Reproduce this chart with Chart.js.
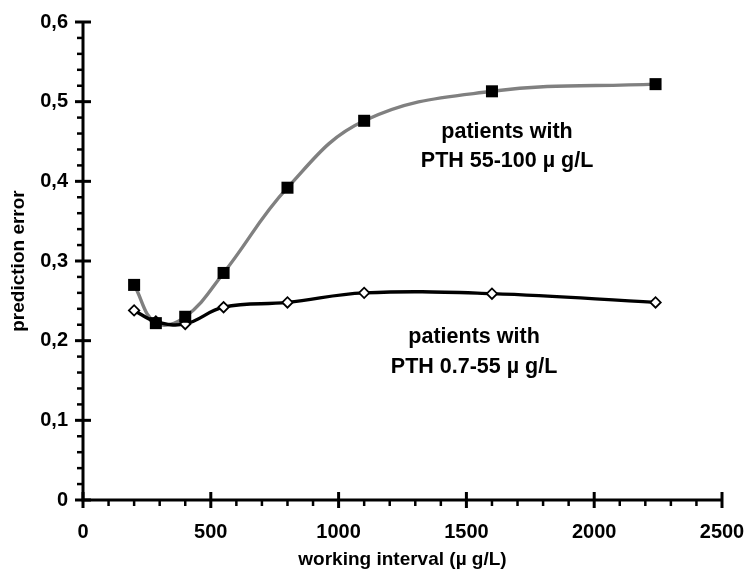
<!DOCTYPE html>
<html>
<head>
<meta charset="utf-8">
<script src="https://cdn.jsdelivr.net/npm/chart.js@4/dist/chart.umd.min.js"></script>
<style>
  html, body { margin: 0; padding: 0; background: #fff; }
  #wrap { width: 746px; height: 571px; position: relative; }
</style>
</head>
<body>
<div id="wrap"><canvas id="c" width="746" height="571"></canvas></div>
<script>
// Working interval (µg/L) on the x axis
const intervals = [200, 285, 400, 550, 800, 1100, 1600, 2240];
// Prediction error, patients with PTH 55-100 µg/L (grey line, black squares)
const errHigh = [0.270, 0.222, 0.230, 0.285, 0.392, 0.476, 0.513, 0.522];
// Prediction error, patients with PTH 0.7-55 µg/L (black line, white diamonds)
const errLow = [0.238, 0.224, 0.221, 0.242, 0.248, 0.260, 0.259, 0.248];

const xTicks = [0, 500, 1000, 1500, 2000, 2500];
const yTicks = [0, 0.1, 0.2, 0.3, 0.4, 0.5, 0.6];

const toPts = (ys) => intervals.map((x, i) => ({ x: x, y: ys[i] }));

const FONT = '"Liberation Sans", Arial, Helvetica, sans-serif';

const axesPlugin = {
  id: 'customAxes',
  afterDatasetsDraw(chart) {
    const ctx = chart.ctx;
    const xs = chart.scales.x, ys = chart.scales.y;
    const x0 = xs.getPixelForValue(0), x1 = xs.getPixelForValue(2500);
    const y0 = ys.getPixelForValue(0), y1 = ys.getPixelForValue(0.6);
    ctx.save();
    ctx.strokeStyle = '#000';
    ctx.lineCap = 'butt';
    ctx.lineWidth = 3;
    ctx.beginPath();
    ctx.moveTo(x0, y1 - 1); ctx.lineTo(x0, y0 + 1.5);
    ctx.moveTo(x0 - 1.5, y0); ctx.lineTo(x1 + 1, y0);
    ctx.stroke();
    for (let v = 0; v <= 2500; v += 100) {
      const px = xs.getPixelForValue(v);
      const major = v % 500 === 0;
      ctx.lineWidth = major ? 3 : 2.5;
      ctx.beginPath();
      if (major) { ctx.moveTo(px, y0 - 8); ctx.lineTo(px, y0 + 8); }
      else { ctx.moveTo(px, y0); ctx.lineTo(px, y0 + 6); }
      ctx.stroke();
    }
    for (let k = 0; k <= 30; k++) {
      const v = k * 0.02;
      const py = ys.getPixelForValue(v);
      const major = k % 5 === 0;
      ctx.lineWidth = major ? 3 : 2.5;
      ctx.beginPath();
      if (major) { ctx.moveTo(x0 - 8, py); ctx.lineTo(x0 + 8, py); }
      else { ctx.moveTo(x0 - 6, py); ctx.lineTo(x0, py); }
      ctx.stroke();
    }
    ctx.fillStyle = '#000';
    ctx.font = 'bold 21.5px ' + FONT;
    ctx.textAlign = 'center';
    ctx.textBaseline = 'middle';
    ctx.fillText('patients with', xs.getPixelForValue(1659), ys.getPixelForValue(0.462));
    ctx.fillText('PTH 55-100 \u00b5 g/L', xs.getPixelForValue(1659), ys.getPixelForValue(0.426));
    ctx.fillText('patients with', xs.getPixelForValue(1530), ys.getPixelForValue(0.205));
    ctx.fillText('PTH 0.7-55 \u00b5 g/L', xs.getPixelForValue(1530), ys.getPixelForValue(0.167));
    ctx.restore();
  }
};

new Chart(document.getElementById('c'), {
  type: 'line',
  data: {
    datasets: [
      { label: 'high-line', data: toPts(errHigh), borderColor: '#808080', borderWidth: 3.4,
        pointRadius: 0, tension: 0.4, fill: false, order: 4 },
      { label: 'low-line', data: toPts(errLow), borderColor: '#000', borderWidth: 3.4,
        pointRadius: 0, tension: 0.4, fill: false, order: 3 },
      { label: 'low-pts', data: toPts(errLow), showLine: false, pointStyle: 'rectRot',
        pointRadius: 5.2, pointBackgroundColor: '#fff', pointBorderColor: '#000',
        pointBorderWidth: 1.8, order: 2 },
      { label: 'high-pts', data: toPts(errHigh), showLine: false, pointStyle: 'rect',
        pointRadius: 8.5, pointBackgroundColor: '#000', pointBorderColor: '#000',
        pointBorderWidth: 0, order: 1 }
    ]
  },
  options: {
    responsive: false,
    animation: false,
    layout: { padding: { top: 22, right: 24, left: 7, bottom: 0 } },
    plugins: { legend: { display: false }, tooltip: { enabled: false } },
    scales: {
      x: {
        type: 'linear', min: 0, max: 2500,
        afterBuildTicks: (s) => { s.ticks = xTicks.map(v => ({ value: v })); },
        afterFit: (s) => { s.height = 71; s.paddingLeft = 0; s.paddingRight = 0; },
        grid: { display: false, drawTicks: false },
        border: { display: false },
        ticks: { color: '#000', padding: 20, maxRotation: 0,
                 callback: (v) => String(v),
                 font: { family: FONT, size: 20, weight: 'bold' } },
        title: { display: true, text: 'working interval (\u00b5 g/L)', color: '#000',
                 padding: { top: 10, bottom: 0 },
                 font: { family: FONT, size: 19, weight: 'bold' } }
      },
      y: {
        type: 'linear', min: 0, max: 0.6,
        afterBuildTicks: (s) => { s.ticks = yTicks.map(v => ({ value: v })); },
        afterFit: (s) => { s.width = 76; s.paddingTop = 0; s.paddingBottom = 0; },
        grid: { display: false, drawTicks: false },
        border: { display: false },
        ticks: { color: '#000', padding: 15,
                 callback: (v) => v === 0 ? '0' : v.toFixed(1).replace('.', ','),
                 font: { family: FONT, size: 20, weight: 'bold' } },
        title: { display: true, text: 'prediction error', color: '#000',
                 padding: { top: 0, bottom: 0 },
                 font: { family: FONT, size: 19, weight: 'bold' } }
      }
    }
  },
  plugins: [axesPlugin]
});
</script>
</body>
</html>
